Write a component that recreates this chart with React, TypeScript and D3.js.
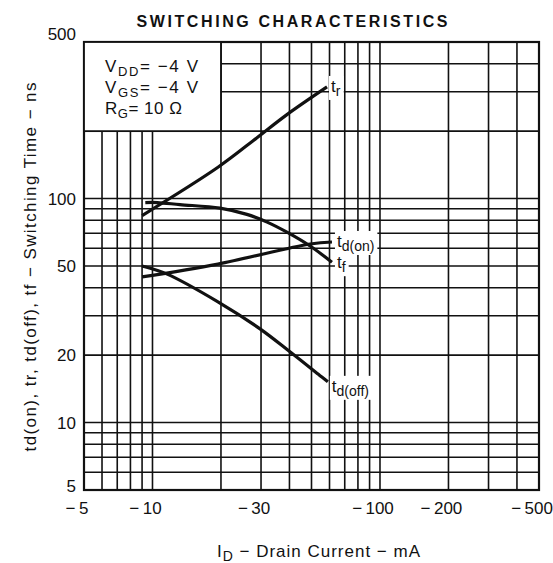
import React, { useEffect, useRef } from "react"
import * as d3 from "d3"

const W = 553
const H = 563
const FONT = "'Liberation Sans', Arial, sans-serif"

// grid lines (|ID| in mA, time in ns)
const xGrid = [5, 6, 7, 8, 9, 10, 20, 30, 40, 50, 60, 70, 80, 90, 100, 200, 300, 400, 500]
const yGrid = [5, 6, 7, 8, 9, 10, 20, 30, 40, 50, 60, 70, 80, 90, 100, 200, 300, 400, 500]
const xTicks = [5, 10, 30, 100, 200, 500]
const yTicks = [5, 10, 20, 50, 100, 500]

// curves
const trCurrent = [9, 19.4, 28.8, 39, 58.5]
const trTime = [84, 138, 187, 237, 315]

const tfCurrent = [9.3, 10.5, 13.2, 19.8, 26, 31.9, 39, 49.3, 61.5]
const tfTime = [96, 96, 94, 90.6, 85, 78.5, 70.8, 61.4, 52]

const tdonCurrent = [9, 19.4, 49.3, 61.5]
const tdonTime = [44.7, 51, 62.7, 64]

const tdoffCurrent = [9, 11.6, 19.4, 29.7, 40.2, 54.5, 59]
const tdoffTime = [50, 46, 34.6, 26.2, 20.7, 16.2, 15.2]

const legendRows = [
	["V", "DD", "= \u22124 V"],
	["V", "GS", "= \u22124 V"],
	["R", "G", "= 10 \u03a9"],
]

const curves = [
	{ sub: "r", current: trCurrent, time: trTime, dx: 4, dy: 5 },
	{ sub: "d(on)", current: tdonCurrent, time: tdonTime, dx: 5, dy: 5 },
	{ sub: "f", current: tfCurrent, time: tfTime, dx: 5, dy: 6 },
	{ sub: "d(off)", current: tdoffCurrent, time: tdoffTime, dx: 4, dy: 10 },
]

const SwitchingChart = () => {
	const ref = useRef<SVGSVGElement>(null)

	useEffect(() => {
		const svg = d3.select(ref.current)
		svg.selectAll("*").remove()

		const x = d3.scaleLog().domain([5, 500]).range([84, 539])
		const y = d3.scaleLog().domain([5, 500]).range([490, 42])

		// grid
		const grid = svg.append("g").attr("stroke", "#111").attr("stroke-width", 1.6)
		grid
			.selectAll("line.v")
			.data(xGrid)
			.join("line")
			.attr("class", "v")
			.attr("x1", d => x(d))
			.attr("x2", d => x(d))
			.attr("y1", y(5))
			.attr("y2", y(500))
		grid
			.selectAll("line.h")
			.data(yGrid)
			.join("line")
			.attr("class", "h")
			.attr("x1", x(5))
			.attr("x2", x(500))
			.attr("y1", d => y(d))
			.attr("y2", d => y(d))

		svg
			.append("rect")
			.attr("x", x(5))
			.attr("y", y(500))
			.attr("width", x(500) - x(5))
			.attr("height", y(5) - y(500))
			.attr("fill", "none")
			.attr("stroke", "#111")
			.attr("stroke-width", 2.2)

		// legend box covers the grid
		svg
			.append("rect")
			.attr("x", x(5))
			.attr("y", y(500))
			.attr("width", x(20) - x(5))
			.attr("height", y(200) - y(500))
			.attr("fill", "#fff")
			.attr("stroke", "#111")
			.attr("stroke-width", 1.8)

		const legend = svg.append("g").style("font-family", FONT).attr("fill", "#111")
		legendRows.forEach((row, i) => {
			const t = legend
				.append("text")
				.attr("x", 105)
				.attr("y", 72 + i * 21)
				.attr("textLength", row[0] === "R" ? 77 : 93)
				.attr("lengthAdjust", "spacing")
				.style("font-size", "17px")
			t.append("tspan").text(row[0])
			t.append("tspan").attr("dy", 4).style("font-size", "13px").text(row[1])
			t.append("tspan").attr("dy", -4).text(row[2])
		})

		// curve labels with white backgrounds (they break the grid lines)
		const labelLayer = svg.append("g")
		const curveLayer = svg.append("g")
		const textLayer = svg.append("g").style("font-family", FONT).attr("fill", "#111")

		const line = d3
			.line<[number, number]>()
			.x(d => x(d[0]))
			.y(d => y(d[1]))
			.curve(d3.curveCatmullRom.alpha(0.5))

		curves.forEach(c => {
			const pts = c.current.map((v, i) => [v, c.time[i]] as [number, number])
			curveLayer
				.append("path")
				.attr("d", line(pts))
				.attr("fill", "none")
				.attr("stroke", "#111")
				.attr("stroke-width", 3.2)

			const last = pts[pts.length - 1]
			const t = textLayer
				.append("text")
				.attr("x", x(last[0]) + c.dx)
				.attr("y", y(last[1]) + c.dy)
				.style("font-size", "17px")
			t.append("tspan").text("t")
			t.append("tspan").attr("dy", 4).style("font-size", "14px").text(c.sub)
			const bb = (t.node() as SVGTextElement).getBBox()
			labelLayer
				.append("rect")
				.attr("x", bb.x - 2)
				.attr("y", bb.y - 1)
				.attr("width", bb.width + 5)
				.attr("height", bb.height + 2)
				.attr("fill", "#fff")
		})

		// axis labels
		const axes = svg.append("g").style("font-family", FONT).attr("fill", "#111")
		axes
			.selectAll("text.xt")
			.data(xTicks)
			.join("text")
			.attr("class", "xt")
			.attr("x", d => x(d) - 7)
			.attr("y", 514)
			.attr("text-anchor", "middle")
			.style("font-size", "17px")
			.text(d => `\u2212\u2009${d}`)

		axes
			.selectAll("text.yt")
			.data(yTicks)
			.join("text")
			.attr("class", "yt")
			.attr("x", 76)
			.attr("y", d => y(d) + (d === 500 ? -2 : d === 5 ? 2 : 6))
			.attr("text-anchor", "end")
			.style("font-size", "17px")
			.text(d => d)

		svg
			.append("text")
			.attr("x", 292)
			.attr("y", 27)
			.attr("text-anchor", "middle")
			.attr("textLength", 311)
			.attr("lengthAdjust", "spacing")
			.style("font-family", FONT)
			.style("font-size", "16px")
			.style("font-weight", "bold")
			.attr("fill", "#111")
			.text("SWITCHING CHARACTERISTICS")

		const xt = svg
			.append("text")
			.attr("x", 217)
			.attr("y", 557)
			.attr("textLength", 203)
			.attr("lengthAdjust", "spacing")
			.style("font-family", FONT)
			.style("font-size", "17px")
			.attr("fill", "#111")
		xt.append("tspan").text("I")
		xt.append("tspan").attr("dy", 4).style("font-size", "14px").text("D")
		xt.append("tspan").attr("dy", -4).text(" \u2212 Drain Current \u2212 mA")

		svg
			.append("text")
			.attr("transform", "translate(36, 267) rotate(-90)")
			.attr("text-anchor", "middle")
			.attr("textLength", 369)
			.attr("lengthAdjust", "spacing")
			.style("font-family", FONT)
			.style("font-size", "17px")
			.attr("fill", "#111")
			.text("td(on), tr, td(off), tf \u2212 Switching Time \u2212 ns")
	}, [])

	return (
		<svg
			ref={ref}
			width={W}
			height={H}
			viewBox={`0 0 ${W} ${H}`}
			style={{ position: "absolute", left: 0, top: 0, background: "#fff" }}
		/>
	)
}

export default function App() {
	return <SwitchingChart />
}
